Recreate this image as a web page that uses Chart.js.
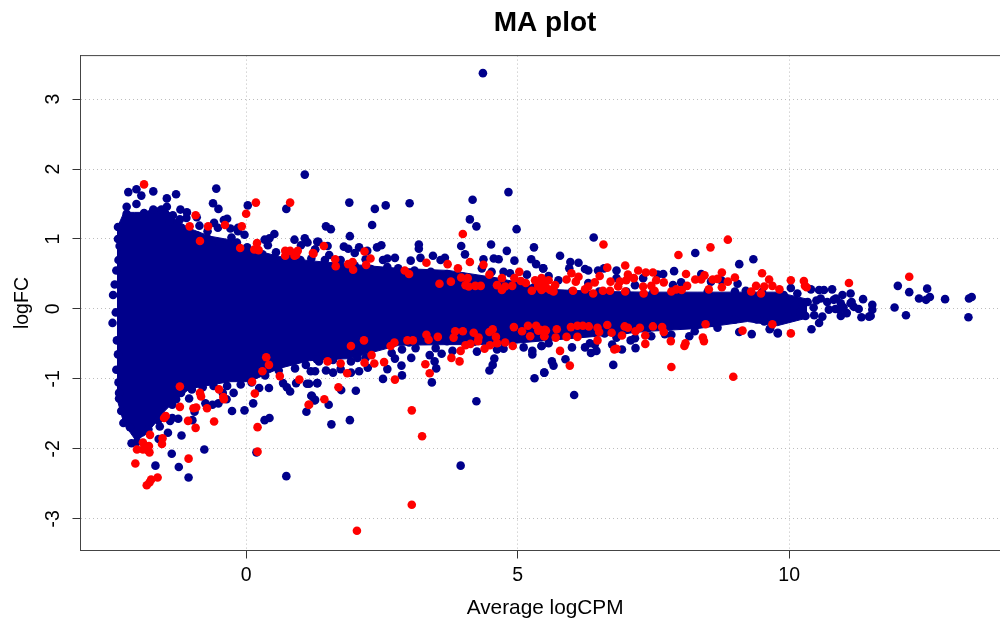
<!DOCTYPE html>
<html>
<head>
<meta charset="utf-8">
<title>MA plot</title>
<script src="https://cdn.jsdelivr.net/npm/chart.js@4"></script>
<style>
html,body{margin:0;padding:0;background:#fff;overflow:hidden;}
#wrap{width:1000px;height:623px;overflow:hidden;position:relative;}
canvas{display:block;}
</style>
</head>
<body>
<div id="wrap"><canvas id="c" width="1014" height="623"></canvas></div>
<script>
const xTicks=[0,5,10];
const yTicks=[-3,-2,-1,0,1,2,3];
const coreX=[-2.38,-2.25,-2.05,-1.87,-1.68,-1.50,-1.32,-1.04,-0.67,-0.31,0.06,0.61,1.16,1.90,2.81,3.73,4.65,5.57,6.48,7.40,8.32,9.23,9.78,10.33];
const coreUpper=[1.15,1.38,1.38,1.38,1.44,1.46,1.29,1.15,1.04,0.99,0.86,0.75,0.69,0.64,0.58,0.55,0.44,0.28,0.25,0.24,0.24,0.24,0.24,0.14];
const coreLower=[-1.28,-1.64,-1.86,-1.81,-1.64,-1.46,-1.32,-1.14,-1.09,-1.04,-1.04,-0.85,-0.74,-0.71,-0.52,-0.51,-0.51,-0.45,-0.39,-0.32,-0.28,-0.18,-0.24,-0.13];
const bluePoints=[
[-2.17,1.67],[-2.02,1.71],[-1.93,1.62],[-1.71,1.68],[-1.46,1.58],[-1.29,1.64],[-0.55,1.72],[-0.61,1.51],[-0.51,1.43],[0.03,1.48],[0.74,1.43],[1.08,1.92],
[-2.20,1.46],[-2.02,1.50],[-2.20,1.36],[-2.36,1.17],[-1.88,1.37],[-1.71,1.42],[-1.56,1.42],[-1.46,1.46],[-1.35,1.34],[-1.21,1.42],[-1.09,1.38],[-1.10,1.30],[-0.91,1.31],[-0.86,1.19],[-0.59,1.23],[-0.52,1.16],[-0.41,1.27],[-0.35,1.29],[-0.29,1.15],[-0.15,1.16],[-0.15,1.11],[-0.03,1.06],[-0.27,1.02],[-0.17,0.95],[0.52,1.07],[0.43,1.01],[0.89,0.99],[1.08,1.01],[1.01,0.91],[1.13,0.95],[1.31,0.96],[1.27,0.85],[0.55,0.81],[0.40,0.91],[0.34,0.99],[0.02,0.88],[-1.22,1.28],[-1.41,1.25],[-0.71,1.11],
[-2.36,1.0],[-2.33,0.9],[-2.35,0.7],[-2.39,0.55],[-2.42,0.35],[-2.45,0.2],[-2.40,-0.05],[-2.46,-0.2],[-2.38,-0.45],[-2.36,-0.65],[-2.39,-0.87],[-2.35,-1.05],
[-2.34,-1.20],[-2.34,-1.28],[-2.30,-1.46],[-2.26,-1.63],[-2.14,-1.69],[-2.11,-1.92],[-1.99,-1.80],[-2.01,-1.90],[-1.80,-1.72],[-1.59,-1.68],[-1.61,-1.86],[-1.44,-1.77],[-1.19,-1.81],[-1.37,-2.07],[-1.67,-2.24],[-1.24,-2.26],[-1.06,-2.41],[-0.77,-2.01],[-0.26,-1.46],[-0.03,-1.45],[0.13,-1.35],[-0.23,-1.20],[0.24,-1.13],[0.42,-1.13],[0.34,-1.59],[0.43,-1.56],[0.19,-2.05],[0.74,-2.39],[1.11,-1.47],[1.27,-1.30],[1.20,-1.24],[0.81,-1.18],[0.75,-1.12],[0.68,-1.06],[0.92,-1.06],[1.12,-1.07],[1.31,-1.06],[-1.36,-1.56],[-1.25,-1.57],[-0.99,-1.59],[-0.95,-1.47],[-0.75,-1.35],[-0.62,-1.37],[-0.51,-1.35],[-0.36,-1.29],[-0.43,-1.20],[-1.05,-1.28],[-1.29,-1.29],[-1.36,-1.37],[-1.62,-1.59],[-1.40,-1.60],
[-1.2,-1.2],[-1.0,-1.15],[-0.8,-1.12],[-0.6,-1.1],[-0.35,-1.1],[-0.1,-1.08],[0.1,-1.05],[0.35,-0.95],[0.6,-0.88],[0.9,-0.85],[1.1,-0.8],
[1.90,1.52],[2.37,1.43],[2.57,1.48],[3.01,1.51],[2.32,1.20],[1.47,1.18],[1.56,1.14],[1.91,1.04],[1.33,0.96],[1.50,0.90],[1.27,0.85],[1.80,0.89],[1.88,0.86],[2.08,0.88],[2.00,0.80],[2.41,0.88],[2.49,0.91],[3.18,0.92],[3.18,0.86],[2.23,0.83],[3.21,0.73],[3.03,0.69],[2.74,0.73],[2.60,0.72],[2.52,0.70],[1.53,0.77],[1.74,0.70],[2.20,0.71],[3.44,0.76],[3.66,0.73],[3.58,0.70],[4.83,1.67],[4.17,1.56],[4.12,1.28],[4.24,1.18],[4.98,1.14],[3.96,0.90],[4.03,0.78],[4.51,0.92],[4.80,0.83],[4.94,0.69],[5.30,0.88],[5.25,0.71],[5.34,0.64],[5.47,0.58],[4.37,0.71],[4.56,0.72],[4.65,0.71],[4.74,0.53],[4.86,0.51],[5.17,0.49],[4.34,0.58],[4.52,0.53],
[-0.9,1.05],[-0.7,1.0],[-0.5,0.95],[-0.2,0.92],[0.1,0.8],[0.3,0.78],[0.5,0.72],[0.8,0.72],[1.0,0.7],[1.2,0.72],[1.45,0.70],[1.7,0.66],[2.0,0.62],[2.3,0.57],[2.6,0.60],[2.8,0.58],[3.1,0.55],[3.4,0.53],[3.7,0.50],[4.0,0.46],[4.3,0.42],[4.5,0.40],[4.8,0.34],[5.0,0.33],[5.3,0.31],
[1.19,-0.89],[1.27,-0.89],[1.31,-1.06],[1.16,-1.07],[1.21,-1.24],[1.26,-1.31],[1.52,-1.37],[1.57,-1.65],[1.91,-1.59],[2.02,-1.17],[1.75,-1.16],[1.47,-0.88],[1.60,-0.91],[1.74,-0.86],[1.93,-0.91],[2.08,-0.89],[2.24,-0.84],[2.60,-0.86],[2.52,-1.00],[2.86,-0.81],[2.87,-0.95],[2.74,-0.71],[2.68,-0.63],[3.04,-0.70],[3.12,-0.56],[2.87,-0.58],[2.20,-0.70],[2.05,-0.70],[1.93,-0.75],[3.42,-1.05],[3.50,-0.85],[3.47,-0.75],[3.38,-0.66],[3.60,-0.64],[3.49,-0.56],[3.80,-0.60],[4.25,-0.61],[4.57,-0.71],[4.54,-0.80],[4.48,-0.88],[4.24,-1.32],[5.31,-0.99],[5.49,-0.91],[5.27,-0.65],[5.27,-0.60],[5.11,-0.55],[5.44,-0.53],[4.74,-0.57],[4.62,-0.58],[1.34,-0.75],[1.41,-0.65],
[1.3,-0.72],[1.6,-0.73],[1.9,-0.6],[2.2,-0.55],[2.5,-0.5],[3.0,-0.48],[3.3,-0.45],[3.7,-0.46],[4.2,-0.47],[4.7,-0.46],[5.0,-0.42],[5.4,-0.38],[5.8,-0.36],[6.2,-0.33],[6.6,-0.35],[7.0,-0.3],[7.4,-0.28],[7.8,-0.25],[8.2,-0.22],[8.6,-0.2],[9.0,-0.15],[9.4,-0.15],
[6.40,1.02],[5.78,0.76],[5.47,0.58],[5.97,0.67],[6.12,0.66],[5.95,0.58],[6.24,0.57],[6.30,0.55],[6.48,0.55],[6.59,0.58],[6.82,0.55],[7.88,0.54],[8.27,0.80],[9.08,0.64],[9.34,0.71],[7.68,0.50],[7.58,0.49],[7.31,0.44],[5.57,0.47],[8.38,0.50],[9.05,0.36],[8.01,0.38],[7.86,0.34],[6.82,0.44],[9.20,0.26],[5.75,0.41],[6.30,0.37],[7.16,0.34],[8.56,0.39],[8.75,0.41],
[5.6,0.27],[6.0,0.25],[6.5,0.25],[7.0,0.25],[7.5,0.25],[8.0,0.25],[8.5,0.25],[9.0,0.25],[9.5,0.24],[9.9,0.2],
[5.49,-0.91],[5.44,-0.53],[5.63,-0.75],[5.66,-0.81],[5.88,-0.72],[6.00,-0.55],[6.24,-0.55],[6.35,-0.63],[6.45,-0.60],[6.42,-0.51],[6.33,-0.49],[6.76,-0.80],[6.74,-0.51],[6.92,-0.58],[7.17,-0.56],[7.08,-0.45],[7.16,-0.42],[6.82,-0.41],[7.46,-0.39],[9.08,-0.33],[9.31,-0.36],[9.65,-0.28],[9.79,-0.34],[8.68,-0.27],[8.16,-0.39],[8.26,-0.32],[7.83,-0.37],[7.71,-0.36],[5.57,-0.49],
[13.31,0.15],[13.36,0.17],[13.30,-0.12],[12.87,0.14],[12.54,0.29],[12.59,0.17],[12.52,0.13],[12.39,0.15],[12.21,0.24],[12.00,0.33],[12.15,-0.09],[11.94,0.02],[11.53,0.06],[11.53,-0.01],[11.50,-0.10],[11.33,-0.12],[11.36,0.14],[11.28,0.00],[11.19,0.03],[11.13,0.08],[11.13,0.22],[11.06,-0.06],[10.95,-0.10],[10.95,0.08],[10.98,0.20],[10.86,0.15],[10.79,0.28],[10.64,0.27],[10.55,0.27],[10.58,0.15],[10.73,-0.01],[10.61,-0.11],[10.55,-0.20],[10.41,-0.29],[10.40,0.28],[10.34,0.10],[10.30,-0.10],[10.15,0.22],[10.03,0.30],[9.97,-0.11],[9.79,-0.35],[9.64,-0.29],[10.46,-0.09],[9.54,-0.18],[10.82,0.13],[10.92,-0.01],[11.47,-0.11],[11.15,0.10],[10.1,0.05],[10.2,-0.05],[10.45,0.02],[10.5,0.12],[10.7,0.1],[11.0,0.02],[10.85,0.0],
[4.36,3.37],[3.95,-2.24],[6.04,-1.23]
];
const redPoints=[
[-1.88,1.78],[-0.93,1.34],[-1.04,1.18],[-0.70,1.18],[-0.39,1.20],[-0.08,1.18],[-0.85,0.97],[0.00,1.36],[0.18,1.52],[0.81,1.52],[-0.11,0.87],[0.20,0.94],[0.15,0.85],[0.23,0.84],[0.72,0.83],[0.81,0.83],[0.95,0.83],[0.72,0.76],[0.89,0.76],[0.92,0.77],[1.24,0.79],
[0.37,-0.69],[0.42,-0.80],[0.30,-0.89],[0.62,-0.96],[0.98,-1.01],[0.11,-1.04],[0.16,-1.21],[-1.22,-1.11],[-0.50,-1.15],[-0.85,-1.20],[-0.83,-1.25],[-0.42,-1.26],[-0.41,-1.29],[-1.22,-1.40],[-0.92,-1.41],[-0.97,-1.42],[-0.72,-1.42],[1.15,-1.37],[-0.59,-1.61],[-1.48,-1.53],[-1.51,-1.56],[-1.07,-1.60],[-0.93,-1.70],[0.21,-1.69],[-1.77,-1.80],[-1.54,-1.85],[-1.55,-1.93],[-1.90,-1.91],[-1.79,-1.96],[-2.01,-2.01],[-1.90,-2.01],[-1.81,-2.02],[-1.78,-2.05],[-1.06,-2.14],[0.21,-2.04],[-2.04,-2.21],[-1.63,-2.41],[-1.75,-2.44],[-1.78,-2.48],[-1.83,-2.52],
[1.43,0.90],[1.23,0.80],[1.64,0.71],[1.65,0.61],[1.88,0.64],[1.96,0.67],[1.97,0.56],[2.18,0.82],[2.29,0.72],[2.21,0.63],[2.92,0.55],[3.00,0.50],[3.32,0.66],[3.71,0.64],[3.90,0.58],[3.99,1.07],[4.12,0.67],[4.37,0.63],[4.48,0.49],[3.96,0.45],[4.08,0.44],[3.56,0.36],[3.77,0.39],[4.04,0.34],[4.10,0.32],[4.22,0.33],[4.32,0.33],[4.62,0.34],[4.71,0.44],[4.77,0.32],[4.71,0.27],[4.90,0.33],[5.03,0.53],[4.94,0.44],[5.06,0.40],[5.15,0.37],[5.26,0.26],[5.32,0.41],[5.44,0.44],[5.38,0.32],[5.50,0.37],[5.44,0.27],[5.53,0.30],
[1.50,-0.75],[1.74,-0.78],[1.86,-0.92],[1.70,-1.12],[1.44,-1.29],[1.16,-1.37],[1.93,-0.53],[2.17,-0.45],[2.31,-0.66],[2.18,-0.77],[2.36,-0.78],[2.54,-0.76],[2.74,-1.01],[2.66,-0.53],[2.73,-0.48],[2.97,-0.45],[3.07,-0.45],[3.32,-0.37],[3.36,-0.44],[3.53,-0.40],[3.30,-0.79],[3.38,-0.92],[3.05,-1.45],[3.24,-1.82],[3.78,-0.70],[3.93,-0.75],[3.95,-0.60],[4.91,-0.53],[4.77,-0.48],[4.62,-0.49],[4.39,-0.57],[4.49,-0.52],[3.82,-0.41],[3.85,-0.32],[3.99,-0.32],[4.04,-0.52],[4.13,-0.50],[4.19,-0.34],[4.28,-0.41],[4.27,-0.46],[4.48,-0.33],[4.54,-0.29],[4.60,-0.40],[4.93,-0.26],[5.08,-0.32],[5.19,-0.24],[5.23,-0.39],[5.34,-0.24],[5.38,-0.31],[5.50,-0.30],[5.49,-0.39],
[2.04,-3.17],[3.05,-2.80],
[6.58,0.92],[7.96,0.77],[8.55,0.88],[8.87,0.99],[6.98,0.62],[6.65,0.59],[7.22,0.55],[7.36,0.52],[7.49,0.52],[8.10,0.50],[8.76,0.52],[9.50,0.51],[9.63,0.42],[9.00,0.45],[8.87,0.39],[8.44,0.48],[8.38,0.42],[8.27,0.42],[8.68,0.43],[8.59,0.42],[7.55,0.41],[7.69,0.38],[7.03,0.49],[7.00,0.41],[7.14,0.44],[6.88,0.39],[5.99,0.51],[6.12,0.46],[5.90,0.42],[6.07,0.39],[5.57,0.41],[5.44,0.41],[5.38,0.34],[5.69,0.34],[5.60,0.27],[6.02,0.26],[5.66,0.25],[6.51,0.47],[6.42,0.38],[6.24,0.28],[6.30,0.32],[6.39,0.22],[6.57,0.26],[6.71,0.39],[6.70,0.26],[6.85,0.32],[6.98,0.25],[7.31,0.32],[7.46,0.33],[7.52,0.26],[7.32,0.22],[7.83,0.25],[7.92,0.28],[8.02,0.27],[8.12,0.33],[8.52,0.28],[8.76,0.31],[9.39,0.33],[9.54,0.32],[9.48,0.22],[9.30,0.25],[9.69,0.33],
[5.78,-0.60],[5.96,-0.81],[7.83,-0.83],[8.97,-0.97],[7.82,-0.46],[7.35,-0.50],[8.09,-0.49],[8.07,-0.53],[8.41,-0.41],[8.43,-0.46],[9.14,-0.31],[8.46,-0.22],[9.69,-0.22],[7.49,-0.25],[7.66,-0.26],[7.69,-0.33],[7.35,-0.38],[7.25,-0.27],[7.17,-0.32],[6.97,-0.25],[7.03,-0.27],[6.92,-0.38],[6.73,-0.34],[6.65,-0.23],[6.47,-0.27],[6.50,-0.33],[6.47,-0.45],[6.10,-0.40],[5.90,-0.40],[5.70,-0.41],[5.49,-0.39],[5.72,-0.29],[5.52,-0.31],[5.41,-0.30],[5.98,-0.26],[6.10,-0.24],[6.20,-0.24],[6.31,-0.25],[6.78,-0.58],[6.82,-0.57],
[9.82,0.28],[10.03,0.41],[10.27,0.40],[10.29,0.33],[10.32,0.31],[11.10,0.37],[12.21,0.46],[10.03,-0.35]
];
const toXY=p=>({x:p[0],y:p[1]});
const BLUE='#00008B', RED='#FF0000', FONT='"Liberation Sans", Arial, sans-serif';
const boxPlugin={id:'box',afterDraw(ch){const a=ch.chartArea,c=ch.ctx;c.save();c.strokeStyle='#444';c.lineWidth=1;c.strokeRect(a.left,a.top,a.right-a.left,a.bottom-a.top);c.restore();}};
new Chart(document.getElementById('c'),{
  type:'scatter',
  plugins:[boxPlugin],
  data:{datasets:[
    {label:'DE',data:redPoints.map(toXY),backgroundColor:RED,borderWidth:0,pointRadius:4.3},
    {label:'non-DE',data:bluePoints.map(toXY),backgroundColor:BLUE,borderWidth:0,pointRadius:4.3},
    {label:'dense upper',data:coreX.map((x,i)=>({x:x,y:coreUpper[i]})),showLine:true,pointRadius:0,borderWidth:1,borderColor:BLUE,backgroundColor:BLUE,fill:'+1'},
    {label:'dense lower',data:coreX.map((x,i)=>({x:x,y:coreLower[i]})),showLine:true,pointRadius:0,borderWidth:1,borderColor:BLUE,backgroundColor:BLUE,fill:false}
  ]},
  options:{
    responsive:false,animation:false,
    layout:{padding:0},
    plugins:{
      legend:{display:false},tooltip:{enabled:false},
      title:{display:true,text:'MA plot',fullSize:false,color:'#000',font:{family:FONT,size:28,weight:'bold',lineHeight:1.2},padding:{top:6,bottom:16}}
    },
    scales:{
      x:{type:'linear',min:-3.05,max:14.06,
        afterBuildTicks:s=>{s.ticks=xTicks.map(v=>({value:v}));},
        afterFit:s=>{s.height=72.5;},
        grid:{color:'#bdbdbd',lineWidth:1,tickColor:'#333',tickLength:8,tickBorderDash:[],drawOnChartArea:true},
        border:{display:true,color:'#333',dash:[1,3]},
        ticks:{color:'#000',padding:5,maxRotation:0,font:{family:FONT,size:19.5}},
        title:{display:true,text:'Average logCPM',color:'#000',font:{family:FONT,size:20.8,lineHeight:1.2},padding:{top:0,bottom:2}}
      },
      y:{type:'linear',min:-3.453,max:3.621,
        afterBuildTicks:s=>{s.ticks=yTicks.map(v=>({value:v}));},
        afterFit:s=>{s.width=80.5;},
        grid:{color:'#bdbdbd',lineWidth:1,tickColor:'#333',tickLength:8,tickBorderDash:[]},
        border:{display:true,color:'#333',dash:[1,3]},
        ticks:{color:'#000',padding:10,minRotation:90,maxRotation:90,crossAlign:'center',font:{family:FONT,size:19.5}},
        title:{display:true,text:'logFC',color:'#000',font:{family:FONT,size:19.5,lineHeight:1.2},padding:{top:11,bottom:0}}
      }
    }
  }
});
</script>
</body>
</html>
